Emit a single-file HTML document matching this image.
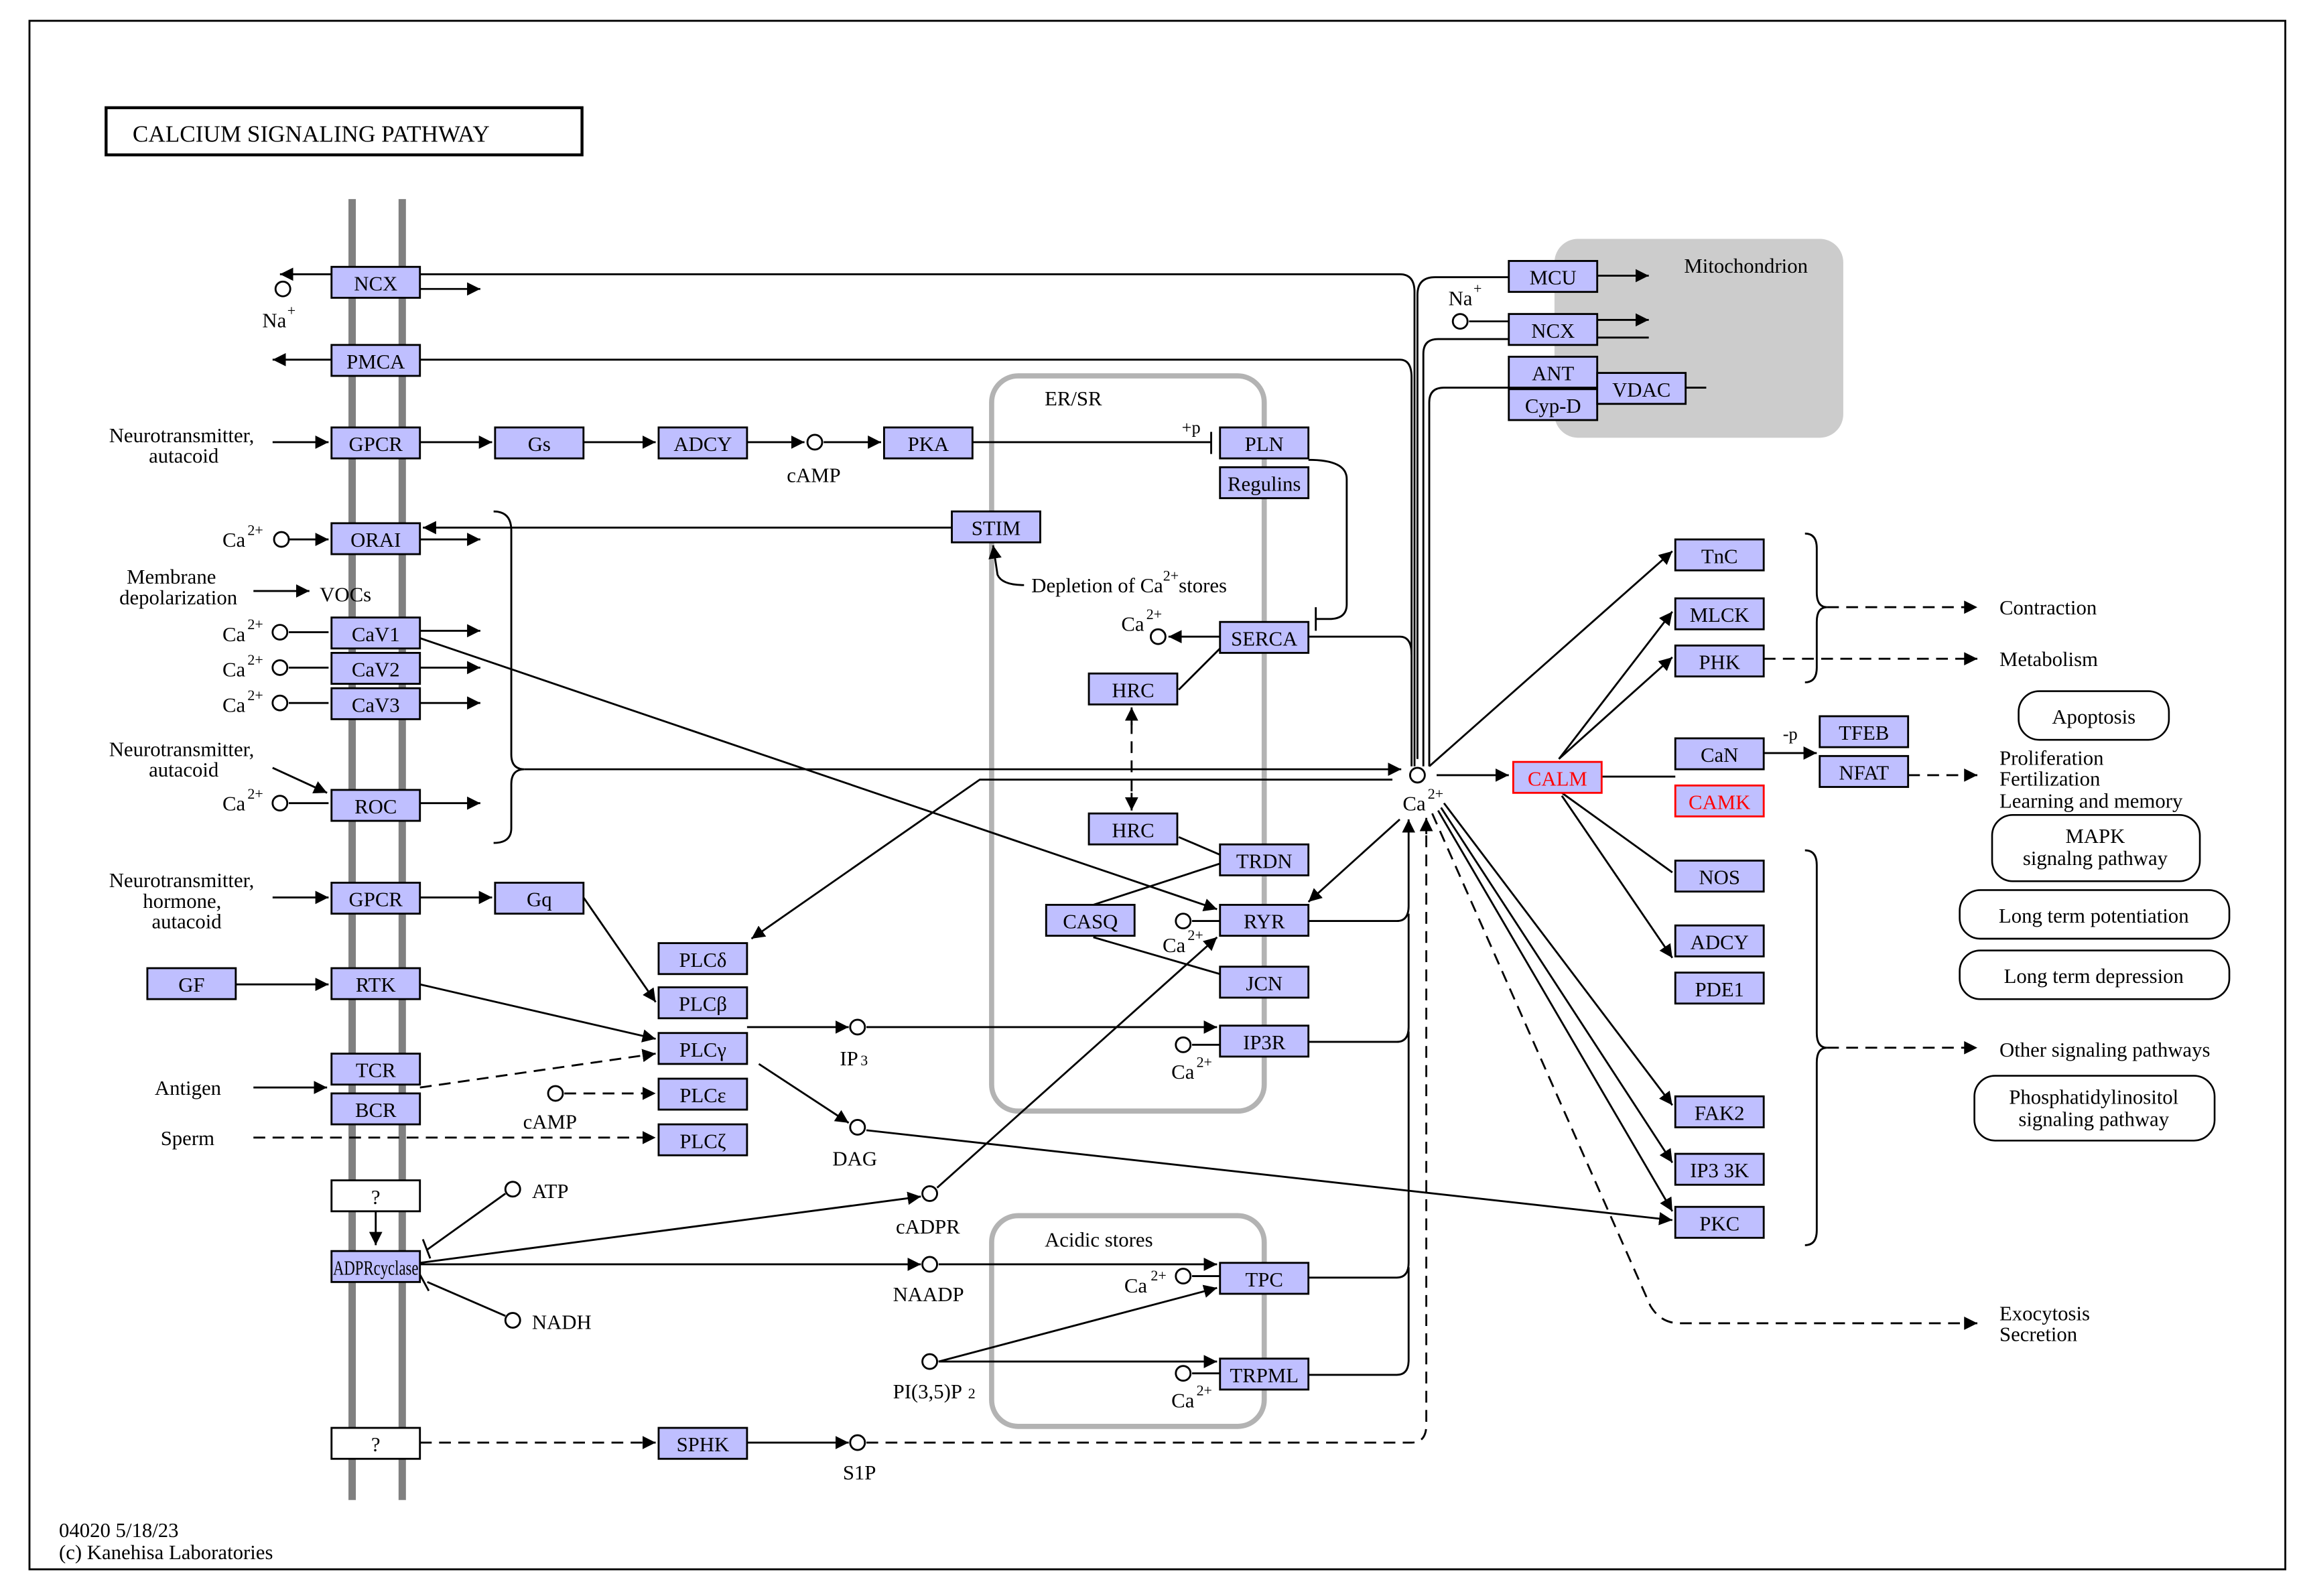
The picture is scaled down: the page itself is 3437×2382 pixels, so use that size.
<!DOCTYPE html>
<html><head><meta charset="utf-8"><style>
html,body{margin:0;padding:0;background:#fff}
svg{display:block}
text{font-family:"Liberation Serif",serif;font-size:14px;fill:#000}
.b{fill:#bfbfff;stroke:#000;stroke-width:1.3}
.w{fill:#fff;stroke:#000;stroke-width:1.3}
.l{fill:none;stroke:#000;stroke-width:1.3}
.d{fill:none;stroke:#000;stroke-width:1.3;stroke-dasharray:8,5}
.c{fill:#fff;stroke:#000;stroke-width:1.3}
.r{fill:#fff;stroke:#000;stroke-width:1.2}
</style></head><body>
<svg width="3437" height="2382" viewBox="0 0 1563 1083" xmlns="http://www.w3.org/2000/svg">
<defs>
<marker id="a" viewBox="0 0 10 10" refX="10" refY="5" markerWidth="9" markerHeight="9" markerUnits="userSpaceOnUse" orient="auto"><path d="M0,0L10,5L0,10z" fill="#000"/></marker>
</defs>
<rect x="20" y="14" width="1531" height="1051" fill="#fff" stroke="#000" stroke-width="1.3"/>
<rect x="72" y="73" width="323" height="32" fill="#fff" stroke="#000" stroke-width="2"/>
<text x="90" y="96" style="font-size:16px">CALCIUM  SIGNALING  PATHWAY</text>
<line x1="239" y1="135" x2="239" y2="1018" stroke="#808080" stroke-width="5"/>
<line x1="273" y1="135" x2="273" y2="1018" stroke="#808080" stroke-width="5"/>
<rect x="673" y="255" width="185" height="499" rx="18" fill="none" stroke="#b3b3b3" stroke-width="3.5"/>
<rect x="673" y="825" width="185" height="143" rx="18" fill="none" stroke="#b3b3b3" stroke-width="3.5"/>
<rect x="1055" y="162" width="196" height="135" rx="16" fill="#cccccc"/>
<text x="1143" y="185">Mitochondrion</text>
<text x="709" y="275">ER/SR</text>
<text x="709" y="846">Acidic stores</text>

<g>
<line class="l" x1="225" y1="186" x2="190" y2="186" marker-end="url(#a)"/>
<line class="l" x1="285" y1="196" x2="326" y2="196" marker-end="url(#a)"/>
<path class="l" d="M285,186H950Q960,186 960,198V520"/>
<line class="l" x1="225" y1="244" x2="185" y2="244" marker-end="url(#a)"/>
<path class="l" d="M285,244H950Q958,244 958,256V520"/>
<path class="l" d="M962,515V200Q962,188 974,188H1024"/>
<line class="l" x1="1084" y1="187" x2="1119" y2="187" marker-end="url(#a)"/>
<line class="l" x1="997" y1="218" x2="1024" y2="218"/>
<line class="l" x1="1084" y1="217" x2="1119" y2="217" marker-end="url(#a)"/>
<line class="l" x1="1084" y1="229" x2="1119" y2="229"/>
<path class="l" d="M1024,230H976Q966,230 966,240V520"/>
<path class="l" d="M1024,263H980Q970,263 970,273V520"/>
<line class="l" x1="1144" y1="263" x2="1158" y2="263"/>
<line class="l" x1="185" y1="300" x2="223" y2="300" marker-end="url(#a)"/>
<line class="l" x1="285" y1="300" x2="334" y2="300" marker-end="url(#a)"/>
<line class="l" x1="396" y1="300" x2="445" y2="300" marker-end="url(#a)"/>
<line class="l" x1="507" y1="300" x2="546" y2="300" marker-end="url(#a)"/>
<line class="l" x1="559" y1="300" x2="598" y2="300" marker-end="url(#a)"/>
<line class="l" x1="660" y1="300" x2="822" y2="300"/>
<line class="l" x1="822" y1="293" x2="822" y2="308"/>
<path class="l" d="M888,312Q914,312 914,325V410Q914,420 902,420H893"/>
<line class="l" x1="893" y1="412" x2="893" y2="428"/>
<line class="l" x1="646" y1="358" x2="287" y2="358" marker-end="url(#a)"/>
<line class="l" x1="285" y1="366" x2="326" y2="366" marker-end="url(#a)"/>
<line class="l" x1="196" y1="366" x2="223" y2="366" marker-end="url(#a)"/>
<path class="l" d="M695,397Q680,397 677,390L674,370" marker-end="url(#a)"/>
<path class="l" d="M335,347Q347,347 347,360V512Q347,522 356,522Q347,522 347,532V562Q347,572 335,572"/>
<line class="l" x1="356" y1="522" x2="951" y2="522" marker-end="url(#a)"/>
<line class="l" x1="172" y1="401" x2="210" y2="401" marker-end="url(#a)"/>
<line class="l" x1="196" y1="429" x2="223" y2="429"/>
<line class="l" x1="196" y1="453" x2="223" y2="453"/>
<line class="l" x1="196" y1="477" x2="223" y2="477"/>
<line class="l" x1="285" y1="428" x2="326" y2="428" marker-end="url(#a)"/>
<line class="l" x1="285" y1="453" x2="326" y2="453" marker-end="url(#a)"/>
<line class="l" x1="285" y1="477" x2="326" y2="477" marker-end="url(#a)"/>
<line class="l" x1="285" y1="433" x2="826" y2="617" marker-end="url(#a)"/>
<line class="l" x1="185" y1="521" x2="222" y2="538" marker-end="url(#a)"/>
<line class="l" x1="196" y1="545" x2="223" y2="545"/>
<line class="l" x1="285" y1="545" x2="326" y2="545" marker-end="url(#a)"/>
<line class="l" x1="828" y1="432" x2="793" y2="432" marker-end="url(#a)"/>
<path class="l" d="M888,432H950Q958,432 958,444"/>
<line class="l" x1="800" y1="468" x2="828" y2="440"/>
<line class="d" x1="768" y1="490" x2="768" y2="540"/>
<line class="l" x1="768" y1="492" x2="768" y2="480" marker-end="url(#a)"/>
<line class="l" x1="768" y1="538" x2="768" y2="550" marker-end="url(#a)"/>
<line class="l" x1="800" y1="568" x2="828" y2="580"/>
<line class="l" x1="742" y1="614" x2="828" y2="586"/>
<line class="l" x1="742" y1="636" x2="828" y2="661"/>
<line class="l" x1="809" y1="625" x2="828" y2="625"/>
<path class="l" d="M888,625H948Q956,625 956,615V556" marker-end="url(#a)"/>
<path class="l" d="M888,707H948Q956,707 956,697V620"/>
<path class="l" d="M945,529H665L510,637" marker-end="url(#a)"/>
<line class="l" x1="950" y1="556" x2="888" y2="612" marker-end="url(#a)"/>
<line class="l" x1="285" y1="609" x2="334" y2="609" marker-end="url(#a)"/>
<line class="l" x1="396" y1="609" x2="445" y2="680" marker-end="url(#a)"/>
<line class="l" x1="185" y1="609" x2="223" y2="609" marker-end="url(#a)"/>
<line class="l" x1="160" y1="668" x2="223" y2="668" marker-end="url(#a)"/>
<line class="l" x1="285" y1="668" x2="445" y2="705" marker-end="url(#a)"/>
<line class="l" x1="172" y1="738" x2="222" y2="738" marker-end="url(#a)"/>
<line class="d" x1="285" y1="738" x2="445" y2="715" marker-end="url(#a)"/>
<line class="d" x1="383" y1="742" x2="445" y2="742" marker-end="url(#a)"/>
<line class="d" x1="172" y1="772" x2="445" y2="772" marker-end="url(#a)"/>
<line class="l" x1="507" y1="697" x2="576" y2="697" marker-end="url(#a)"/>
<line class="l" x1="588" y1="697" x2="826" y2="697" marker-end="url(#a)"/>
<line class="l" x1="809" y1="709" x2="828" y2="709"/>
<line class="l" x1="515" y1="722" x2="576" y2="762" marker-end="url(#a)"/>
<line class="l" x1="588" y1="767" x2="1135" y2="828" marker-end="url(#a)"/>
<line class="l" x1="255" y1="822" x2="255" y2="845" marker-end="url(#a)"/>
<line class="l" x1="343" y1="810" x2="290" y2="848"/>
<line class="l" x1="287" y1="841" x2="292" y2="854"/>
<line class="l" x1="343" y1="893" x2="290" y2="870"/>
<line class="l" x1="285" y1="865" x2="291" y2="876"/>
<line class="l" x1="285" y1="857" x2="625" y2="812" marker-end="url(#a)"/>
<line class="l" x1="636" y1="806" x2="826" y2="636" marker-end="url(#a)"/>
<line class="l" x1="285" y1="858" x2="625" y2="858" marker-end="url(#a)"/>
<line class="l" x1="637" y1="858" x2="826" y2="858" marker-end="url(#a)"/>
<line class="l" x1="809" y1="866" x2="828" y2="866"/>
<line class="l" x1="637" y1="924" x2="826" y2="874" marker-end="url(#a)"/>
<line class="l" x1="637" y1="924" x2="826" y2="924" marker-end="url(#a)"/>
<line class="l" x1="809" y1="932" x2="828" y2="932"/>
<path class="l" d="M888,867H948Q956,867 956,857V700"/>
<path class="l" d="M888,933H948Q956,933 956,923V860"/>
<line class="d" x1="285" y1="979" x2="445" y2="979" marker-end="url(#a)"/>
<line class="l" x1="507" y1="979" x2="576" y2="979" marker-end="url(#a)"/>
<path class="d" d="M588,979H958Q968,979 968,967V556" />
<line class="l" x1="968" y1="566" x2="968" y2="555" marker-end="url(#a)"/>
<line class="l" x1="975" y1="526" x2="1024" y2="526" marker-end="url(#a)"/>
<line class="l" x1="970" y1="520" x2="1135" y2="374" marker-end="url(#a)"/>
<line class="l" x1="1058" y1="515" x2="1135" y2="415" marker-end="url(#a)"/>
<line class="l" x1="1058" y1="515" x2="1135" y2="446" marker-end="url(#a)"/>
<line class="l" x1="1087" y1="527" x2="1137" y2="527"/>
<line class="l" x1="1197" y1="511" x2="1233" y2="511" marker-end="url(#a)"/>
<line class="d" x1="1295" y1="526" x2="1342" y2="526" marker-end="url(#a)"/>
<line class="l" x1="1060" y1="538" x2="1135" y2="592"/>
<line class="l" x1="1060" y1="540" x2="1135" y2="650" marker-end="url(#a)"/>
<line class="l" x1="980" y1="545" x2="1135" y2="750" marker-end="url(#a)"/>
<line class="l" x1="978" y1="548" x2="1135" y2="789" marker-end="url(#a)"/>
<line class="l" x1="976" y1="550" x2="1135" y2="822" marker-end="url(#a)"/>
<path class="d" d="M972,552L1120,886Q1127,898 1140,898H1342" marker-end="url(#a)"/>
<path class="l" d="M1225,362Q1233,362 1233,372V402Q1233,412 1240,412Q1233,412 1233,422V453Q1233,463 1225,463"/>
<line class="d" x1="1240" y1="412" x2="1342" y2="412" marker-end="url(#a)"/>
<line class="d" x1="1197" y1="447" x2="1342" y2="447" marker-end="url(#a)"/>
<path class="l" d="M1225,577Q1233,577 1233,587V701Q1233,711 1240,711Q1233,711 1233,721V835Q1233,845 1225,845"/>
<line class="d" x1="1240" y1="711" x2="1342" y2="711" marker-end="url(#a)"/>
</g>

<g>
<circle class="c" cx="192" cy="196" r="5"/><circle class="c" cx="553" cy="300" r="5"/>
<circle class="c" cx="991" cy="218" r="5"/><circle class="c" cx="191" cy="366" r="5"/>
<circle class="c" cx="190" cy="429" r="5"/><circle class="c" cx="190" cy="453" r="5"/>
<circle class="c" cx="190" cy="477" r="5"/><circle class="c" cx="190" cy="545" r="5"/>
<circle class="c" cx="786" cy="432" r="5"/><circle class="c" cx="803" cy="625" r="5"/>
<circle class="c" cx="803" cy="709" r="5"/><circle class="c" cx="962" cy="526" r="5"/>
<circle class="c" cx="377" cy="742" r="5"/><circle class="c" cx="582" cy="697" r="5"/>
<circle class="c" cx="582" cy="765" r="5"/><circle class="c" cx="348" cy="807" r="5"/>
<circle class="c" cx="348" cy="896" r="5"/><circle class="c" cx="631" cy="810" r="5"/>
<circle class="c" cx="631" cy="858" r="5"/><circle class="c" cx="631" cy="924" r="5"/>
<circle class="c" cx="803" cy="866" r="5"/><circle class="c" cx="803" cy="932" r="5"/>
<circle class="c" cx="582" cy="979" r="5"/>
</g>

<g text-anchor="middle">
<rect class="b" x="225" y="181" width="60" height="21"/><text x="255" y="197">NCX</text>
<rect class="b" x="225" y="234" width="60" height="21"/><text x="255" y="250">PMCA</text>
<rect class="b" x="225" y="290" width="60" height="21"/><text x="255" y="306">GPCR</text>
<rect class="b" x="336" y="290" width="60" height="21"/><text x="366" y="306">Gs</text>
<rect class="b" x="447" y="290" width="60" height="21"/><text x="477" y="306">ADCY</text>
<rect class="b" x="600" y="290" width="60" height="21"/><text x="630" y="306">PKA</text>
<rect class="b" x="828" y="290" width="60" height="21"/><text x="858" y="306">PLN</text>
<rect class="b" x="828" y="317" width="60" height="21"/><text x="858" y="333">Regulins</text>
<rect class="b" x="646" y="347" width="60" height="21"/><text x="676" y="363">STIM</text>
<rect class="b" x="225" y="355" width="60" height="21"/><text x="255" y="371">ORAI</text>
<rect class="b" x="225" y="419" width="60" height="21"/><text x="255" y="435">CaV1</text>
<rect class="b" x="225" y="443" width="60" height="21"/><text x="255" y="459">CaV2</text>
<rect class="b" x="225" y="467" width="60" height="21"/><text x="255" y="483">CaV3</text>
<rect class="b" x="225" y="536" width="60" height="21"/><text x="255" y="552">ROC</text>
<rect class="b" x="828" y="422" width="60" height="21"/><text x="858" y="438">SERCA</text>
<rect class="b" x="739" y="457" width="60" height="21"/><text x="769" y="473">HRC</text>
<rect class="b" x="739" y="552" width="60" height="21"/><text x="769" y="568">HRC</text>
<rect class="b" x="828" y="573" width="60" height="21"/><text x="858" y="589">TRDN</text>
<rect class="b" x="710" y="614" width="60" height="21"/><text x="740" y="630">CASQ</text>
<rect class="b" x="828" y="614" width="60" height="21"/><text x="858" y="630">RYR</text>
<rect class="b" x="828" y="656" width="60" height="21"/><text x="858" y="672">JCN</text>
<rect class="b" x="828" y="696" width="60" height="21"/><text x="858" y="712">IP3R</text>
<rect class="b" x="225" y="599" width="60" height="21"/><text x="255" y="615">GPCR</text>
<rect class="b" x="336" y="599" width="60" height="21"/><text x="366" y="615">Gq</text>
<rect class="b" x="447" y="640" width="60" height="21"/><text x="477" y="656">PLCδ</text>
<rect class="b" x="447" y="670" width="60" height="21"/><text x="477" y="686">PLCβ</text>
<rect class="b" x="447" y="701" width="60" height="21"/><text x="477" y="717">PLCγ</text>
<rect class="b" x="447" y="732" width="60" height="21"/><text x="477" y="748">PLCε</text>
<rect class="b" x="447" y="763" width="60" height="21"/><text x="477" y="779">PLCζ</text>
<rect class="b" x="100" y="657" width="60" height="21"/><text x="130" y="673">GF</text>
<rect class="b" x="225" y="657" width="60" height="21"/><text x="255" y="673">RTK</text>
<rect class="b" x="225" y="715" width="60" height="21"/><text x="255" y="731">TCR</text>
<rect class="b" x="225" y="742" width="60" height="21"/><text x="255" y="758">BCR</text>
<rect class="w" x="225" y="801" width="60" height="21"/><text x="255" y="817">?</text>
<rect class="b" x="225" y="849" width="60" height="21"/><text x="255" y="865" textLength="58" lengthAdjust="spacingAndGlyphs">ADPRcyclase</text>
<rect class="w" x="225" y="969" width="60" height="21"/><text x="255" y="985">?</text>
<rect class="b" x="447" y="969" width="60" height="21"/><text x="477" y="985">SPHK</text>
<rect class="b" x="828" y="857" width="60" height="21"/><text x="858" y="873">TPC</text>
<rect class="b" x="828" y="922" width="60" height="21"/><text x="858" y="938">TRPML</text>
<rect class="b" x="1024" y="177" width="60" height="21"/><text x="1054" y="193">MCU</text>
<rect class="b" x="1024" y="213" width="60" height="21"/><text x="1054" y="229">NCX</text>
<rect class="b" x="1024" y="242" width="60" height="21"/><text x="1054" y="258">ANT</text>
<rect class="b" x="1024" y="264" width="60" height="21"/><text x="1054" y="280">Cyp-D</text>
<rect class="b" x="1084" y="253" width="60" height="21"/><text x="1114" y="269">VDAC</text>
<rect class="b" x="1137" y="366" width="60" height="21"/><text x="1167" y="382">TnC</text>
<rect class="b" x="1137" y="406" width="60" height="21"/><text x="1167" y="422">MLCK</text>
<rect class="b" x="1137" y="438" width="60" height="21"/><text x="1167" y="454">PHK</text>
<rect x="1027" y="517" width="60" height="21" fill="#bfbfff" stroke="#ff0000" stroke-width="1.3"/><text x="1057" y="533" style="fill:#ff0000">CALM</text>
<rect class="b" x="1137" y="501" width="60" height="21"/><text x="1167" y="517">CaN</text>
<rect x="1137" y="533" width="60" height="21" fill="#bfbfff" stroke="#ff0000" stroke-width="1.3"/><text x="1167" y="549" style="fill:#ff0000">CAMK</text>
<rect class="b" x="1235" y="486" width="60" height="21"/><text x="1265" y="502">TFEB</text>
<rect class="b" x="1235" y="513" width="60" height="21"/><text x="1265" y="529">NFAT</text>
<rect class="b" x="1137" y="584" width="60" height="21"/><text x="1167" y="600">NOS</text>
<rect class="b" x="1137" y="628" width="60" height="21"/><text x="1167" y="644">ADCY</text>
<rect class="b" x="1137" y="660" width="60" height="21"/><text x="1167" y="676">PDE1</text>
<rect class="b" x="1137" y="744" width="60" height="21"/><text x="1167" y="760">FAK2</text>
<rect class="b" x="1137" y="783" width="60" height="21"/><text x="1167" y="799">IP3 3K</text>
<rect class="b" x="1137" y="819" width="60" height="21"/><text x="1167" y="835">PKC</text>
<rect class="r" x="1370" y="469" width="102" height="33" rx="14"/><text x="1421" y="491">Apoptosis</text>
<rect class="r" x="1352" y="553" width="141" height="45" rx="14"/><text x="1422" y="572">MAPK</text><text x="1422" y="587">signalng pathway</text>
<rect class="r" x="1330" y="604" width="183" height="33" rx="14"/><text x="1421" y="626">Long term potentiation</text>
<rect class="r" x="1330" y="645" width="183" height="33" rx="14"/><text x="1421" y="667">Long term depression</text>
<rect class="r" x="1340" y="730" width="163" height="44" rx="14"/><text x="1421" y="749">Phosphatidylinositol</text><text x="1421" y="764">signaling pathway</text>
</g>

<g>
<text x="178" y="222">Na</text><text x="195" y="214" style="font-size:10px">+</text>
<text x="983" y="207">Na</text><text x="1000" y="199" style="font-size:10px">+</text>
<text x="74" y="300">Neurotransmitter,</text><text x="101" y="314">autacoid</text>
<text x="534" y="327">cAMP</text>
<text x="802" y="294" style="font-size:12px">+p</text>
<text x="151" y="371">Ca</text><text x="168" y="363" style="font-size:10px">2+</text>
<text x="86" y="396">Membrane</text><text x="81" y="410">depolarization</text>
<text x="217" y="408">VOCs</text>
<text x="151" y="435">Ca</text><text x="168" y="427" style="font-size:10px">2+</text>
<text x="151" y="459">Ca</text><text x="168" y="451" style="font-size:10px">2+</text>
<text x="151" y="483">Ca</text><text x="168" y="475" style="font-size:10px">2+</text>
<text x="700" y="402">Depletion of Ca<tspan dy="-8" style="font-size:10px">2+</tspan><tspan dy="8">stores</tspan></text>
<text x="761" y="428">Ca</text><text x="778" y="420" style="font-size:10px">2+</text>
<text x="74" y="513">Neurotransmitter,</text><text x="101" y="527">autacoid</text>
<text x="151" y="550">Ca</text><text x="168" y="542" style="font-size:10px">2+</text>
<text x="952" y="550">Ca</text><text x="969" y="542" style="font-size:10px">2+</text>
<text x="789" y="646">Ca</text><text x="806" y="638" style="font-size:10px">2+</text>
<text x="74" y="602">Neurotransmitter,</text><text x="97" y="616">hormone,</text><text x="103" y="630">autacoid</text>
<text x="105" y="743">Antigen</text>
<text x="109" y="777">Sperm</text>
<text x="355" y="766">cAMP</text>
<text x="570" y="723">IP</text><text x="584" y="723" style="font-size:10px">3</text>
<text x="795" y="732">Ca</text><text x="812" y="724" style="font-size:10px">2+</text>
<text x="565" y="791">DAG</text>
<text x="361" y="813">ATP</text>
<text x="361" y="902">NADH</text>
<text x="608" y="837">cADPR</text>
<text x="606" y="883">NAADP</text>
<text x="763" y="877">Ca</text><text x="781" y="869" style="font-size:10px">2+</text>
<text x="606" y="949">PI(3,5)P</text><text x="657" y="949" style="font-size:10px">2</text>
<text x="795" y="955">Ca</text><text x="812" y="947" style="font-size:10px">2+</text>
<text x="572" y="1004">S1P</text>
<text x="1210" y="502" style="font-size:12px">-p</text>
<text x="1357" y="417">Contraction</text>
<text x="1357" y="452">Metabolism</text>
<text x="1357" y="519">Proliferation</text><text x="1357" y="533">Fertilization</text><text x="1357" y="548">Learning and memory</text>
<text x="1357" y="717">Other signaling pathways</text>
<text x="1357" y="896">Exocytosis</text><text x="1357" y="910">Secretion</text>
<text x="40" y="1043">04020 5/18/23</text>
<text x="40" y="1058">(c) Kanehisa Laboratories</text>
</g>
</svg>
</body></html>
